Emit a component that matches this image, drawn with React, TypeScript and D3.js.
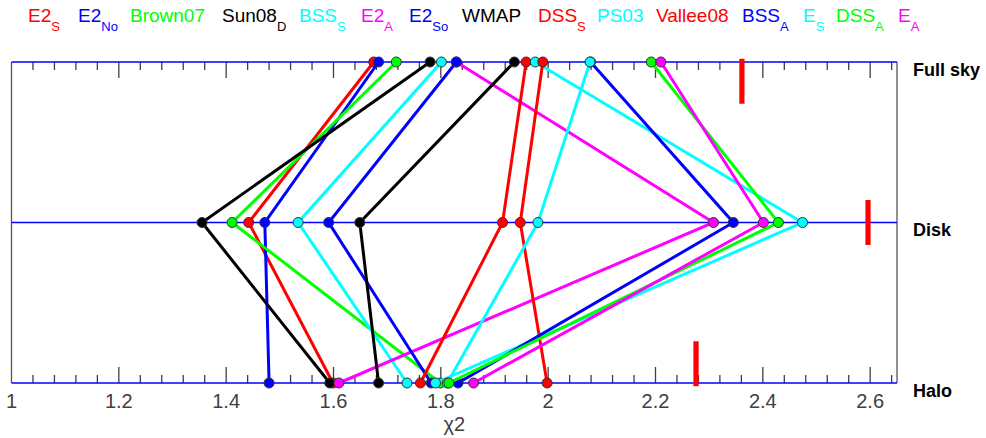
import * as d3 from 'd3';
import React from 'react';

// models in legend order (sorted by full-sky chi2)
const models = ['E2', 'E2', 'Brown07', 'Sun08', 'BSS', 'E2', 'E2', 'WMAP', 'DSS', 'PS03', 'Vallee08', 'BSS', 'E', 'DSS', 'E'];
const subs = ['S', 'No', '', 'D', 'S', 'A', 'So', '', 'S', '', '', 'A', 'S', 'A', 'A'];
const colors = ['#ff0000', '#0000ff', '#00ff00', '#000000', '#00ffff', '#ff00ff', '#0000ff', '#000000', '#ff0000', '#00ffff', '#ff0000', '#0000ff', '#00ffff', '#00ff00', '#ff00ff'];

const fullSky = [1.675, 1.684, 1.717, 1.78, 1.801, 1.829, 1.829, 1.937, 1.959, 1.976, 1.99, 2.079, 2.078, 2.192, 2.21];
const disk = [1.442, 1.472, 1.411, 1.355, 1.534, 2.308, 1.591, 1.649, 1.915, 2.474, 1.948, 2.345, 1.981, 2.429, 2.401];
const halo = [1.599, 1.48, 1.799, 1.593, 1.737, 1.61, 1.782, 1.684, 1.762, 1.79, 1.998, 1.832, 1.812, 1.815, 1.861];

const regions = ['Full sky', 'Disk', 'Halo'];
// red reference bars per region
const barValues = [2.361, 2.596, 2.2755];
const barLo = [-0.02, 0.86, 1.74];
const barHi = [0.26, 1.14, 2.02];

const legendX = [28, 78, 130, 222, 299, 361, 409, 462, 538, 597, 656, 742, 803, 836, 898];

export default function App() {
  const x = d3.scaleLinear().domain([1, 2.65]).range([11.5, 897]);
  const y = d3.scaleLinear().domain([0, 2]).range([62, 383]);

  const major = d3.range(1, 2.61, 0.2).map((v) => +v.toFixed(2));
  const minor = d3.range(1.04, 2.65, 0.04).map((v) => +v.toFixed(2)).filter((v) => !major.some((m) => Math.abs(m - v) < 1e-6));

  const line = d3
    .line<number>()
    .x((d) => x(d))
    .y((d, i) => y(i));

  const ticks = (row: number, dir: number) => (
    <g stroke="#404040" strokeWidth={1.3}>
      {major.slice(1).map((v) => (
        <line key={'M' + v} x1={x(v)} x2={x(v)} y1={y(row)} y2={y(row) + dir * 16} />
      ))}
      {minor.map((v) => (
        <line key={'m' + v} x1={x(v)} x2={x(v)} y1={y(row)} y2={y(row) + dir * 8} />
      ))}
    </g>
  );

  return (
    <svg width={986} height={438} style={{ position: 'absolute', left: 0, top: 0, background: '#fff' }} fontFamily="'Liberation Sans', Arial, sans-serif">
      {/* legend */}
      {models.map((m, i) => (
        <text key={'lg' + i} x={legendX[i]} y={22} fontSize={19} fill={colors[i]}>
          {m}
          {subs[i] && (
            <tspan dy={9} fontSize={13}>
              {subs[i]}
            </tspan>
          )}
        </text>
      ))}

      {/* frame */}
      <line x1={x(1)} x2={x(1)} y1={y(0)} y2={y(2)} stroke="#555" strokeWidth={1.3} />
      <line x1={x(2.65)} x2={x(2.65)} y1={y(0)} y2={y(2)} stroke="#555" strokeWidth={1.3} />
      {ticks(0, 1)}
      {ticks(2, -1)}
      {regions.map((r, i) => (
        <line key={'row' + r} x1={x(1)} x2={x(2.65)} y1={y(i)} y2={y(i)} stroke="#0000ff" strokeWidth={1.3} />
      ))}

      {/* red bars */}
      {barValues.map((v, i) => (
        <rect key={'bar' + i} x={x(v) - 2.6} width={5.2} y={y(barLo[i])} height={y(barHi[i]) - y(barLo[i])} fill="#ff0000" />
      ))}

      {/* model lines */}
      {models.map((m, i) => {
        const pts = [fullSky[i], disk[i], halo[i]];
        return (
          <g key={'mod' + i}>
            <path d={line(pts) || ''} fill="none" stroke={colors[i]} strokeWidth={3} />
            {pts.map((v, j) => (
              <circle key={j} cx={x(v)} cy={y(j)} r={5} fill={colors[i]} stroke="#333" strokeWidth={1} />
            ))}
          </g>
        );
      })}

      {/* x tick labels */}
      {major.map((v) => (
        <text key={'tl' + v} x={x(v)} y={408} fontSize={20} fill="#404040" textAnchor="middle">
          {String(+v.toFixed(1))}
        </text>
      ))}
      <text x={(x(1) + x(2.65)) / 2} y={431} fontSize={20} fill="#404040" textAnchor="middle">
        χ2
      </text>

      {/* region labels */}
      {regions.map((r, i) => (
        <text key={'rl' + r} x={913} y={y(i) + 13.5} fontSize={18} fontWeight="bold" fill="#000">
          {r}
        </text>
      ))}
    </svg>
  );
}
